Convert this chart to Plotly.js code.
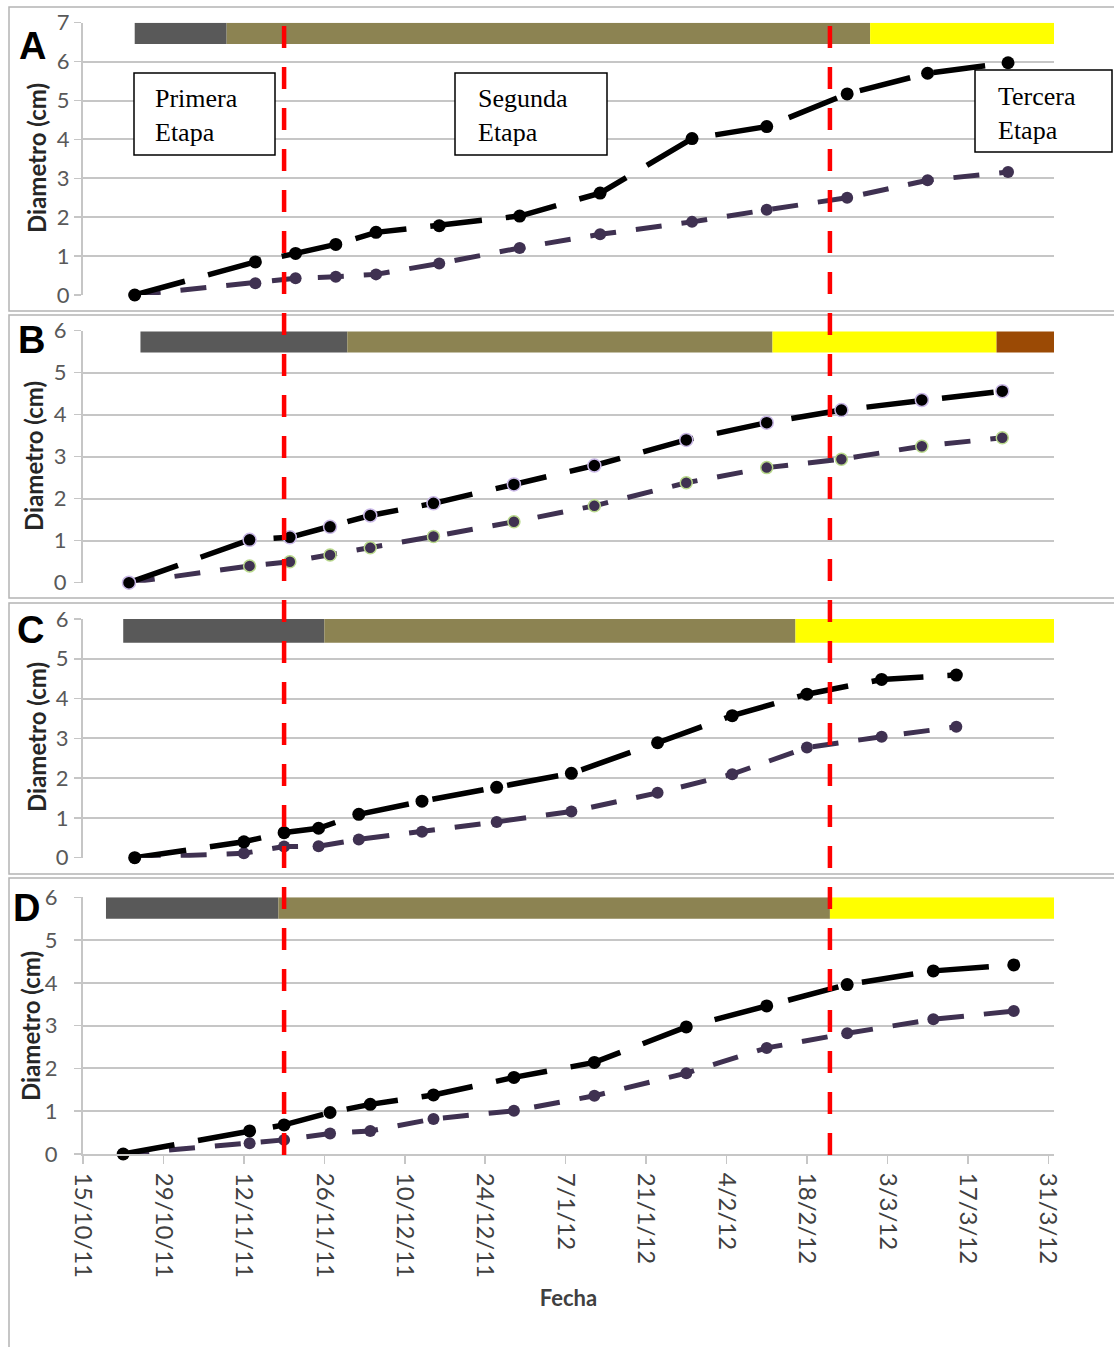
<!DOCTYPE html>
<html>
<head>
<meta charset="utf-8">
<script src="https://cdn.plot.ly/plotly-3.0.1.min.js"></script>
<style>html,body{margin:0;padding:0;background:#fff}#chart{width:1114px;height:1347px}</style>
</head>
<body>
<div id="chart"></div>
<script>
// ---- tick labels (x axis) ----
const tickDates = ['2011-10-15','2011-10-29','2011-11-12','2011-11-26','2011-12-10','2011-12-24','2012-01-07','2012-01-21','2012-02-04','2012-02-18','2012-03-03','2012-03-17','2012-03-31'];
const tickLabels = ['15/10/11','29/10/11','12/11/11','26/11/11','10/12/11','24/12/11','7/1/12','21/1/12','4/2/12','18/2/12','3/3/12','17/3/12','31/3/12'];

// ---- panel A ----
const datesA = ['2011-10-24','2011-11-14','2011-11-21','2011-11-28','2011-12-05','2011-12-16','2011-12-30','2012-01-13','2012-01-29','2012-02-11','2012-02-25','2012-03-10','2012-03-24'];
const blackA = [0, 0.85, 1.07, 1.30, 1.61, 1.78, 2.03, 2.62, 4.02, 4.33, 5.17, 5.70, 5.97];
const purpleA = [0, 0.30, 0.43, 0.47, 0.53, 0.81, 1.21, 1.56, 1.88, 2.19, 2.50, 2.95, 3.16];
// ---- panel B ----
const datesB = ['2011-10-23','2011-11-13','2011-11-20','2011-11-27','2011-12-04','2011-12-15','2011-12-29','2012-01-12','2012-01-28','2012-02-11','2012-02-24','2012-03-09','2012-03-23'];
const blackB = [0, 1.02, 1.08, 1.33, 1.60, 1.89, 2.34, 2.79, 3.40, 3.81, 4.11, 4.35, 4.56];
const purpleB = [0, 0.40, 0.50, 0.66, 0.83, 1.10, 1.45, 1.83, 2.38, 2.74, 2.94, 3.25, 3.45];
// ---- panel C ----
const datesC = ['2011-10-24','2011-11-12','2011-11-19','2011-11-25','2011-12-02','2011-12-13','2011-12-26','2012-01-08','2012-01-23','2012-02-05','2012-02-18','2012-03-02','2012-03-15'];
const blackC = [0, 0.40, 0.63, 0.74, 1.09, 1.42, 1.77, 2.12, 2.89, 3.57, 4.11, 4.48, 4.59];
const purpleC = [0, 0.11, 0.28, 0.29, 0.46, 0.65, 0.90, 1.16, 1.63, 2.10, 2.77, 3.04, 3.29];
// ---- panel D ----
const datesD = ['2011-10-22','2011-11-13','2011-11-19','2011-11-27','2011-12-04','2011-12-15','2011-12-29','2012-01-12','2012-01-28','2012-02-11','2012-02-25','2012-03-11','2012-03-25'];
const blackD = [0, 0.54, 0.68, 0.97, 1.16, 1.38, 1.79, 2.14, 2.97, 3.46, 3.96, 4.28, 4.42];
const purpleD = [0, 0.25, 0.33, 0.48, 0.54, 0.82, 1.01, 1.36, 1.89, 2.48, 2.82, 3.15, 3.34];

// ---- phenological stage bars (boundaries) ----
const stageColors = ['#595959', '#8c8352', '#ffff00', '#9b4a05'];
const stagesA = ['2011-10-24','2011-11-09','2012-02-29','2012-04-01'];
const stagesB = ['2011-10-25','2011-11-30','2012-02-12','2012-03-22','2012-04-02'];
const stagesC = ['2011-10-22','2011-11-26','2012-02-16','2012-04-01'];
const stagesD = ['2011-10-19','2011-11-18','2012-02-22','2012-04-01'];
const stageBandA = [6.45, 7.0];
const stageBandB = [5.48, 5.98];
const stageBandC = [5.40, 6.0];
const stageBandD = [5.50, 6.0];

// ---- stage dividers ----
const dividerDates = ['2011-11-19', '2012-02-22'];

// ---- texts ----
const panelLetters = ['A', 'B', 'C', 'D'];
const stageNames = ['Primera<br>Etapa', 'Segunda<br>Etapa', 'Tercera<br>Etapa'];
const yTitle = 'Diametro (cm)';
const xTitle = 'Fecha';

// ================= layout helpers =================
const W = 1114, H = 1347, L = 83, PW = 971;
const px = x => (x - L) / PW;
const py = y => (H - y) / H;

const blackColor = '#000000';
const purpleColor = '#3f3151';
const gridColor = '#c6c6c6';

const panels = [
  {dates: datesA, black: blackA, purple: purpleA, stages: stagesA, band: stageBandA, y: 'y',  yk: 'yaxis',  range: [0, 7], dom: [py(295), py(22.7)], standoff: 0, letter: [32, 46], title: [37, 158], frame: [7, 311]},
  {dates: datesB, black: blackB, purple: purpleB, stages: stagesB, band: stageBandB, y: 'y2', yk: 'yaxis2', range: [0, 6], dom: [py(582.7), py(330.7)], standoff: 3, letter: [31, 340], title: [33, 456], frame: [315, 598], glow: true},
  {dates: datesC, black: blackC, purple: purpleC, stages: stagesC, band: stageBandC, y: 'y3', yk: 'yaxis3', range: [0, 6], dom: [py(857.7), py(619)], standoff: 1, letter: [30, 630], title: [36, 737], frame: [603, 874]},
  {dates: datesD, black: blackD, purple: purpleD, stages: stagesD, band: stageBandD, y: 'y4', yk: 'yaxis4', range: [0, 6], dom: [py(1154), py(897.3)], standoff: 12, letter: [26, 908], title: [30, 1026], frame: [878, 1349]}
];

const fontSans = 'Lato, "Open Sans", "DejaVu Sans", sans-serif';
const fontSerif = '"Liberation Serif", "DejaVu Serif", serif';

const traces = [];
const shapes = [];
const annotations = [];

const layout = {
  width: W, height: H,
  margin: {l: L, r: W - L - PW, t: 0, b: 0},
  paper_bgcolor: '#ffffff', plot_bgcolor: 'rgba(0,0,0,0)',
  showlegend: false,
  hovermode: false,
  xaxis: {
    type: 'date', range: ['2011-10-15', '2012-04-01'], anchor: 'y4', domain: [0, 1],
    showgrid: false, zeroline: false,
    showline: true, linecolor: gridColor, linewidth: 2,
    ticks: 'outside', ticklen: 8, tickwidth: 1.5, tickcolor: gridColor,
    tickmode: 'array', tickvals: tickDates, ticktext: tickLabels, tickangle: 90,
    ticklabelstandoff: 4,
    tickfont: {family: fontSans, size: 24, color: '#404040'},
    title: {text: '<b>' + xTitle + '</b>', font: {family: fontSans, size: 22, color: '#404040'}, standoff: 14}
  }
};

panels.forEach((p, i) => {
  layout[p.yk] = {
    domain: p.dom, range: p.range, anchor: 'x', fixedrange: true,
    dtick: 1, tick0: 0,
    showgrid: true, gridcolor: gridColor, gridwidth: 2, zeroline: false,
    showline: true, linecolor: gridColor, linewidth: 2,
    ticks: 'outside', ticklen: 7, tickwidth: 1.5, tickcolor: gridColor,
    ticklabelstandoff: p.standoff,
    tickfont: {family: fontSans, size: 22, color: '#595959'}
  };
  // purple series
  traces.push({
    type: 'scatter', mode: 'lines+markers', x: p.dates, y: p.purple, xaxis: 'x', yaxis: p.y,
    line: {color: purpleColor, width: 5, dash: '26px,20px'},
    marker: {color: purpleColor, size: 12, line: {color: p.glow ? '#b9d98c' : purpleColor, width: p.glow ? 1.5 : 0}},
    cliponaxis: false
  });
  // black series
  traces.push({
    type: 'scatter', mode: 'lines+markers', x: p.dates, y: p.black, xaxis: 'x', yaxis: p.y,
    line: {color: blackColor, width: 5.5, dash: '52px,24px'},
    marker: {color: blackColor, size: 13, line: {color: p.glow ? '#c9b8e6' : blackColor, width: p.glow ? 1.5 : 0}},
    cliponaxis: false
  });
  // stage bars
  for (let k = 0; k < p.stages.length - 1; k++) {
    shapes.push({
      type: 'rect', xref: 'x', yref: p.y, layer: 'between',
      x0: p.stages[k], x1: p.stages[k + 1], y0: p.band[0], y1: p.band[1],
      fillcolor: stageColors[k], line: {width: 0}
    });
  }
  // panel frame
  shapes.push({
    type: 'rect', xref: 'paper', yref: 'paper', layer: 'below',
    x0: px(9), x1: px(1116), y0: py(p.frame[1]), y1: py(p.frame[0]),
    line: {color: '#b4b4b4', width: 1.5}, fillcolor: 'rgba(0,0,0,0)'
  });
  // panel letter
  annotations.push({
    xref: 'paper', yref: 'paper', x: px(p.letter[0]), y: py(p.letter[1]),
    xanchor: 'center', yanchor: 'middle', showarrow: false,
    text: '<b>' + panelLetters[i] + '</b>',
    font: {family: '"Liberation Sans", Arial, sans-serif', size: 38, color: '#000000'}
  });
  // y title
  annotations.push({
    xref: 'paper', yref: 'paper', x: px(p.title[0]), y: py(p.title[1]),
    xanchor: 'center', yanchor: 'middle', showarrow: false, textangle: -90,
    text: '<b>' + yTitle + '</b>',
    font: {family: fontSans, size: 24, color: '#262626'}
  });
});

// stage divider lines
dividerDates.forEach(d => {
  shapes.push({
    type: 'line', xref: 'x', yref: 'paper', layer: 'above',
    x0: d, x1: d, y0: py(1155), y1: py(7),
    line: {color: '#ff0000', width: 4.5, dash: '22px,19px'}
  });
});

// stage label boxes
const boxes = [
  {x0: 134, x1: 275, y0: 73, y1: 155, tx: 153, ty: 116},
  {x0: 455, x1: 607, y0: 73, y1: 155, tx: 476, ty: 116},
  {x0: 975, x1: 1112, y0: 70, y1: 152, tx: 996, ty: 113}
];
boxes.forEach((b, i) => {
  shapes.push({
    type: 'rect', xref: 'paper', yref: 'paper', layer: 'above',
    x0: px(b.x0), x1: px(b.x1), y0: py(b.y1), y1: py(b.y0),
    fillcolor: '#ffffff', line: {color: '#000000', width: 1.5}
  });
  annotations.push({
    xref: 'paper', yref: 'paper', x: px(b.tx), y: py(b.ty),
    xanchor: 'left', yanchor: 'middle', align: 'left', showarrow: false,
    text: stageNames[i],
    font: {family: fontSerif, size: 26, color: '#000000'}
  });
});

layout.shapes = shapes;
layout.annotations = annotations;

Plotly.newPlot('chart', traces, layout, {staticPlot: true, displayModeBar: false});
</script>
</body>
</html>
